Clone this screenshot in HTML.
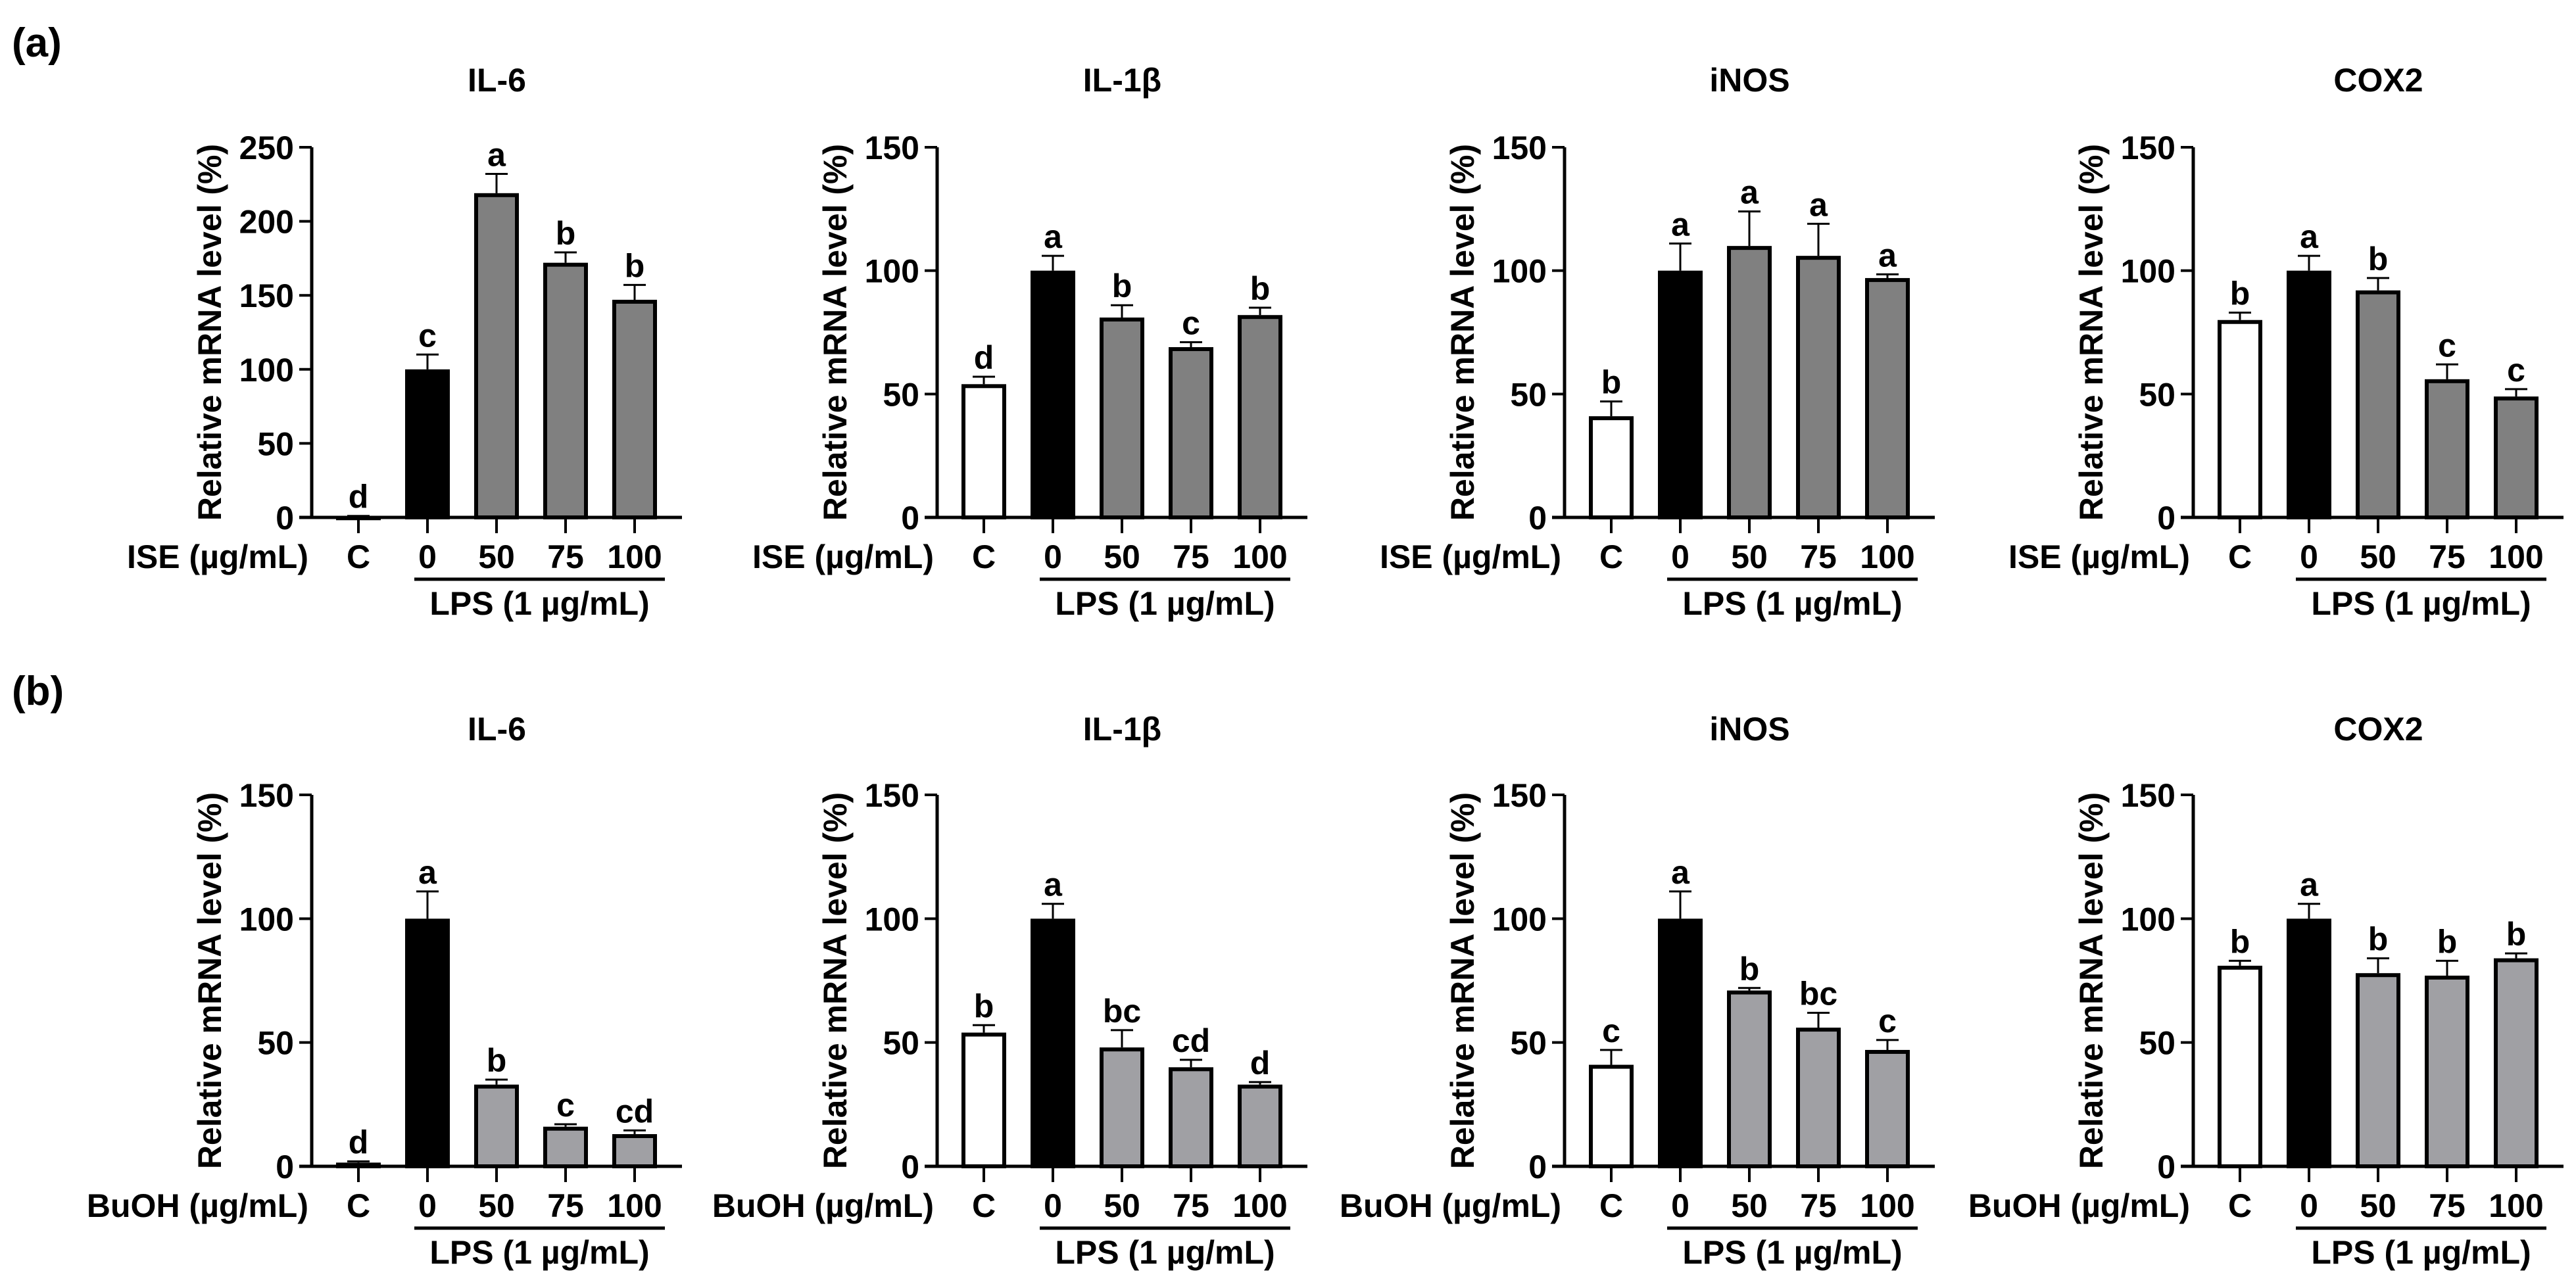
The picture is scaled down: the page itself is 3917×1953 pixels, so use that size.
<!DOCTYPE html>
<html><head><meta charset="utf-8">
<style>
html,body{margin:0;padding:0;background:#fff;}
svg{display:block;}
text{font-family:"Liberation Sans",Arial,sans-serif;font-weight:bold;fill:#000;}
</style></head>
<body>
<svg id="fig" width="3917" height="1953" viewBox="0 0 3917 1953" xmlns="http://www.w3.org/2000/svg">
<rect width="3917" height="1953" fill="#fff"/>
<text x="18" y="86" font-size="62">(a)</text>
<text x="18" y="1072" font-size="62">(b)</text>
</svg>
<script>
const categories = ["C", "0", "50", "75", "100"];
const titles = ["IL-6", "IL-1β", "iNOS", "COX2"];
const yMaxA = [250, 150, 150, 150];
const yMaxB = [150, 150, 150, 150];
const tickStepA = [50, 50, 50, 50];
const tickStepB = [50, 50, 50, 50];
// row (a) ISE
const aIL6 = [1, 100, 219, 172, 147];
const aIL6Err = [0, 10, 13, 7, 10];
const aIL6Sig = ["d", "c", "a", "b", "b"];
const aIL1b = [54, 100, 81, 69, 82];
const aIL1bErr = [3, 6, 5, 2, 3];
const aIL1bSig = ["d", "a", "b", "c", "b"];
const aiNOS = [41, 100, 110, 106, 97];
const aiNOSErr = [6, 11, 14, 13, 1.5];
const aiNOSSig = ["b", "a", "a", "a", "a"];
const aCOX2 = [80, 100, 92, 56, 49];
const aCOX2Err = [3, 6, 5, 6, 3];
const aCOX2Sig = ["b", "a", "b", "c", "c"];
// row (b) BuOH
const bIL6 = [1.5, 100, 33, 16, 13];
const bIL6Err = [0.5, 11, 2, 1, 1.5];
const bIL6Sig = ["d", "a", "b", "c", "cd"];
const bIL1b = [54, 100, 48, 40, 33];
const bIL1bErr = [3, 6, 7, 3, 1];
const bIL1bSig = ["b", "a", "bc", "cd", "d"];
const biNOS = [41, 100, 71, 56, 47];
const biNOSErr = [6, 11, 1, 6, 4];
const biNOSSig = ["c", "a", "b", "bc", "c"];
const bCOX2 = [81, 100, 78, 77, 84];
const bCOX2Err = [2, 6, 6, 6, 2];
const bCOX2Sig = ["b", "a", "b", "b", "b"];

const NS = "http://www.w3.org/2000/svg";
const svg = document.getElementById("fig");
function mk(tag, attrs, parent) {
  const e = document.createElementNS(NS, tag);
  for (const k in attrs) e.setAttribute(k, attrs[k]);
  (parent || svg).appendChild(e);
  return e;
}
const axisX = [474, 1425, 2379, 3335];
const rows = [
  {y0: 787, top: 224, treat: "ISE (µg/mL)", gray: "#808080", vals: [aIL6, aIL1b, aiNOS, aCOX2], errs: [aIL6Err, aIL1bErr, aiNOSErr, aCOX2Err], sigs: [aIL6Sig, aIL1bSig, aiNOSSig, aCOX2Sig], ymax: yMaxA, step: tickStepA, tag: "a"},
  {y0: 1774, top: 1209, treat: "BuOH (µg/mL)", gray: "#a0a0a4", vals: [bIL6, bIL1b, biNOS, bCOX2], errs: [bIL6Err, bIL1bErr, biNOSErr, bCOX2Err], sigs: [bIL6Sig, bIL1bSig, biNOSSig, bCOX2Sig], ymax: yMaxB, step: tickStepB, tag: "b"}
];
rows.forEach(function (row) {
  for (let p = 0; p < 4; p++) {
    const ax = axisX[p];
    const xEnd = ax + 563;
    const ymax = row.ymax[p];
    const yScale = function (v) { return row.y0 - (v / ymax) * (row.y0 - row.top); };
    const xScale = function (i) { return ax + 71 + i * 105; };
    const g = mk("g", {});
    
    
    const t = mk("text", {x: (ax + xEnd) / 2, y: row.y0 - 648, "font-size": 50, "text-anchor": "middle"}, g);
    t.textContent = titles[p];
    
    
    // y axis label
    const yl = mk("text", {x: 0, y: 0, "font-size": 50, "text-anchor": "middle", transform: "translate(" + (ax - 138) + "," + ((row.y0 + row.top) / 2) + ") rotate(-90)"}, g);
    yl.textContent = "Relative mRNA level (%)";
    
    
    // bars
    const vals = row.vals[p], errs = row.errs[p], sigs = row.sigs[p];
    for (let i = 0; i < categories.length; i++) {
      const cx = xScale(i);
      const yv = yScale(vals[i]);
      const fill = i === 0 ? "#fff" : (i === 1 ? "#000" : row.gray);
      const eTop = yScale(vals[i] + errs[i]);
      const el = mk("line", {x1: cx, x2: cx, y1: yv, y2: eTop, stroke: "#000", "stroke-width": 3}, g);
      
      
      const cap = mk("line", {x1: cx - 17, x2: cx + 17, y1: eTop, y2: eTop, stroke: "#000", "stroke-width": 3}, g);
      
      
      const h = Math.max(row.y0 - yv, 1);
      const r = mk("rect", {x: cx - 31, y: yv + 3, width: 62, height: Math.max(h - 3, 0.5), fill: fill, stroke: "#000", "stroke-width": 6}, g);
      
      
      const s = mk("text", {x: cx, y: eTop - 12, "font-size": 50, "text-anchor": "middle"}, g);
      s.textContent = sigs[i];
      
      
      const tk = mk("line", {x1: cx, x2: cx, y1: row.y0, y2: row.y0 + 24, stroke: "#000", "stroke-width": 4}, g);
      
      
      const tl = mk("text", {x: cx, y: row.y0 + 77, "font-size": 50, "text-anchor": "middle"}, g);
      tl.textContent = categories[i];
      
      
    }
    // axes
    const ya = mk("line", {x1: ax, x2: ax, y1: row.top, y2: row.y0 + 2, stroke: "#000", "stroke-width": 5}, g);
    
    
    const xa = mk("line", {x1: ax - 19, x2: xEnd, y1: row.y0, y2: row.y0, stroke: "#000", "stroke-width": 5}, g);
    
    
    for (let v = 0; v <= ymax; v += row.step[p]) {
      const yy = yScale(v);
      const tk = mk("line", {x1: ax - 19, x2: ax, y1: yy, y2: yy, stroke: "#000", "stroke-width": 4}, g);
      
      
      const tl = mk("text", {x: ax - 27, y: yy + 18, "font-size": 50, "text-anchor": "end"}, g);
      tl.textContent = String(v);
      
      
    }
    const tr = mk("text", {x: ax - 5, y: row.y0 + 77, "font-size": 50, "text-anchor": "end"}, g);
    tr.textContent = row.treat;
    
    
    const ll = mk("line", {x1: xScale(1) - 20, x2: xScale(4) + 46, y1: row.y0 + 94, y2: row.y0 + 94, stroke: "#000", "stroke-width": 5}, g);
    
    
    const lt = mk("text", {x: (xScale(1) + xScale(4)) / 2 + 13, y: row.y0 + 148, "font-size": 50, "text-anchor": "middle"}, g);
    lt.textContent = "LPS (1 µg/mL)";
    
    
  }
});
</script>
</body></html>
